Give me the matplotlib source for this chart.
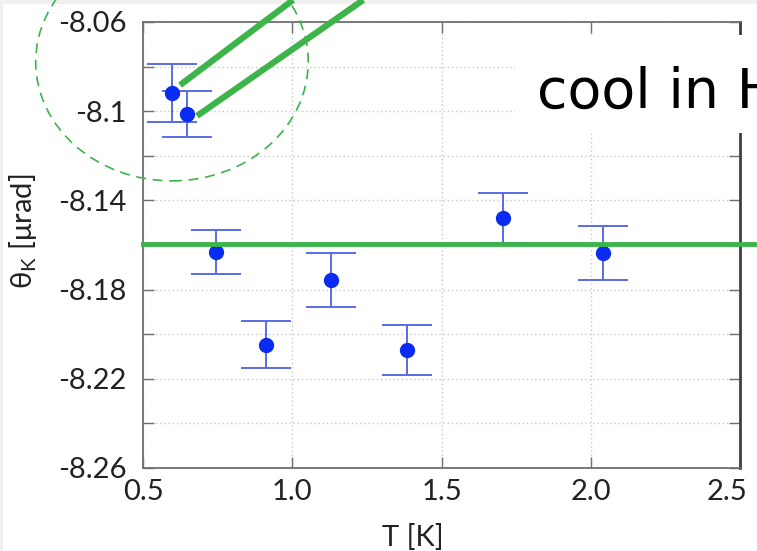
import numpy as np
import matplotlib.pyplot as plt
import matplotlib.transforms as mtransforms
from matplotlib.patches import Ellipse, Rectangle

# measured Kerr angle vs temperature
temp = [0.597, 0.648, 0.745, 0.913, 1.131, 1.386, 1.705, 2.040]
theta = [-8.0918, -8.1013, -8.1631, -8.2048, -8.1757, -8.2071, -8.1479, -8.1636]
err = [0.013, 0.0103, 0.0099, 0.0105, 0.012, 0.0114, 0.011, 0.0123]

mean_level = -8.1595
xticks = [0.5, 1.0, 1.5, 2.0, 2.5]
yticks = [-8.26, -8.24, -8.22, -8.20, -8.18, -8.16, -8.14, -8.12, -8.10, -8.08, -8.06]
ylabels = ['-8.26', '', '-8.22', '', '-8.18', '', '-8.14', '', '-8.1', '', '-8.06']

plt.rcParams['font.family'] = ['Lato', 'DejaVu Sans']
plt.rcParams['mathtext.fontset'] = 'custom'
plt.rcParams['mathtext.rm'] = 'Lato'

fig = plt.figure(figsize=(7.57, 5.51), dpi=100)
fig.patch.set_facecolor('#f0f0f0')
fig.add_artist(Rectangle((3/757, 0), 1, 1 - 4/551, transform=fig.transFigure,
                         facecolor='white', edgecolor='none', zorder=0))

ax = fig.add_axes([143/757, 83/551, 597/757, 446/551])
ax.set_facecolor('white')

ax.errorbar(temp, theta, yerr=err, fmt='none', ecolor='#5a6ae6', elinewidth=1.4,
            capsize=18, capthick=1.4, zorder=3)
ax.plot(temp, theta, 'o', color='#0a2cf2', markersize=10, zorder=4)

# average level
ax.plot([0.5, 2.7], [mean_level, mean_level], color='#3cb44a', lw=3.5,
        clip_on=False, zorder=5)

# annotation: circled field-cooled points with pointer lines
ax.plot([0.624, 1.003], [-8.0883, -8.0501], color='#3cb44a', lw=4.5,
        clip_on=False, solid_capstyle='butt', zorder=5)
ax.plot([0.681, 1.238], [-8.1021, -8.0501], color='#3cb44a', lw=4.5,
        clip_on=False, solid_capstyle='butt', zorder=5)
ax.add_patch(Ellipse((0.597, -8.0779), 0.913, 0.1067, fill=False,
                     edgecolor='#3cb44a', lw=1.2, ls=(0, (6, 4)), clip_on=False, zorder=5))

ax.set_xlim(0.5, 2.5)
ax.set_ylim(-8.26, -8.06)
ax.set_xticks(xticks)
ax.set_xticklabels(['0.5', '1.0', '1.5', '2.0', '2.5'])
ax.set_yticks(yticks)
ax.set_yticklabels(ylabels)
ax.tick_params(direction='in', length=8, width=1, color='#707070',
               top=True, right=True, labelsize=21, labelcolor='#222222')
ax.tick_params(axis='x', pad=8)
ax.tick_params(axis='y', pad=12)
ax.grid(True, color='#c8c8c8', linestyle=(0, (1, 2)), linewidth=1)
for s in ax.spines.values():
    s.set_color('#707070')
    s.set_linewidth(1.3)
ax.spines['right'].set_color('#404040')
ax.spines['right'].set_linewidth(2)

# last x label sits a bit left of its tick, as on the slide
last = ax.get_xticklabels()[-1]
last.set_transform(last.get_transform() +
                   mtransforms.ScaledTranslation(-9/72, 0, fig.dpi_scale_trans))

ax.set_xlabel('T [K]', fontsize=21, color='#222222')
ax.xaxis.set_label_coords(0.452, -0.125)
ax.set_ylabel('θ$_\\mathrm{K}$ [μrad]', fontsize=21, color='#222222')
ax.yaxis.set_label_coords(-0.175, 0.53)

# callout text box covering the upper right
fig.add_artist(Rectangle((515/757, 1 - 133/551), 0.4, 98/551, transform=fig.transFigure,
                         facecolor='white', edgecolor='none', zorder=10))
fig.text(537/757, 1 - 108/551, 'cool in H', fontsize=40, family='DejaVu Sans',
         color='black', va='baseline', ha='left', zorder=11)

fig.savefig('out.png', dpi=100)
